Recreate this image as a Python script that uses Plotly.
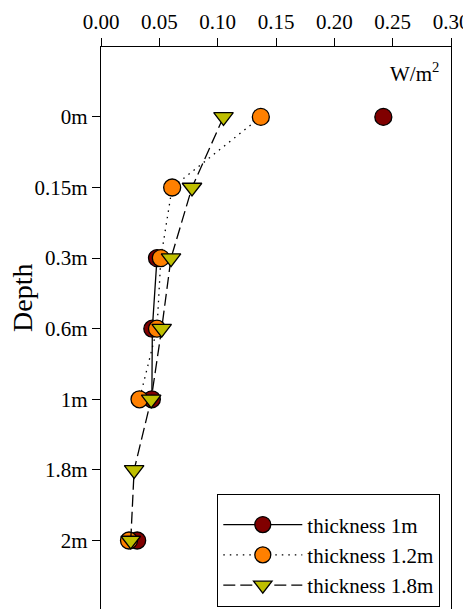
import plotly.graph_objects as go

depths = ["0m", "0.15m", "0.3m", "0.6m", "1m", "1.8m", "2m"]
thick_1m = [0.242, None, 0.048, 0.044, 0.0436, None, 0.031]
thick_1_2m = [0.137, 0.061, 0.0513, 0.048, 0.033, None, 0.024]
thick_1_8m = [0.105, 0.078, 0.060, 0.052, 0.043, 0.0284, 0.0255]
x_ticks = [0.00, 0.05, 0.10, 0.15, 0.20, 0.25, 0.30]

FONT = "Liberation Serif, Times New Roman, serif"

fig = go.Figure()
fig.add_trace(go.Scatter(
    x=thick_1m, y=depths, name="thickness 1m", mode="lines+markers",
    line=dict(color="black", width=1.3),
    marker=dict(symbol="circle", size=17, color="#800000",
                line=dict(color="black", width=1.3)),
))
fig.add_trace(go.Scatter(
    x=thick_1_2m, y=depths, name="thickness 1.2m", mode="lines+markers",
    line=dict(color="black", width=1.3, dash="1.5px,5px"),
    marker=dict(symbol="circle", size=17, color="#ff8000",
                line=dict(color="black", width=1.3)),
))
fig.add_trace(go.Scatter(
    x=thick_1_8m, y=depths, name="thickness 1.8m", mode="lines+markers",
    line=dict(color="black", width=1.3, dash="12px,5px"),
    marker=dict(symbol="triangle-down", size=17, color="#bfbf00",
                line=dict(color="black", width=1.3)),
))

# page has an 8px body margin: figure is 463x601 drawn from (8,8)
fig.update_layout(
    width=463, height=601,
    margin=dict(l=93, r=20, t=39, b=0),
    paper_bgcolor="white", plot_bgcolor="white",
    font=dict(family=FONT, size=21, color="black"),
    showlegend=True,
    legend=dict(
        x=(217 - 101) / 350, y=(609 - 494) / 562, xanchor="left", yanchor="top",
        bordercolor="black", borderwidth=1.3, bgcolor="white",
        font=dict(family=FONT, size=21), itemwidth=79,
        tracegroupgap=0,
        title=dict(text=" ", font=dict(size=7)),
    ),
    xaxis=dict(
        side="top", range=[0, 0.30], tickvals=x_ticks, tickformat=".2f",
        showline=True, linecolor="black", linewidth=1.3, mirror=False,
        ticks="outside", ticklen=8, tickwidth=1.3, tickcolor="black",
        showgrid=False, zeroline=False,
        tickfont=dict(family=FONT, size=21),
    ),
    yaxis=dict(
        type="category", categoryorder="array", categoryarray=depths,
        range=[6.97, -0.99],
        showline=True, linecolor="black", linewidth=1.3, mirror=True,
        ticks="outside", ticklen=8, tickwidth=1.3, tickcolor="black",
        showgrid=False, zeroline=False,
        tickfont=dict(family=FONT, size=21),
    ),
    annotations=[
        dict(text="W/m<sup>2</sup>", xref="paper", yref="paper",
             x=(441 - 101) / 350, y=(609 - 72) / 562, xanchor="right", yanchor="middle",
             showarrow=False, font=dict(family=FONT, size=21)),
        dict(text="Depth", xref="paper", yref="paper",
             x=(22 - 101) / 350, y=(609 - 298) / 562, xanchor="center", yanchor="middle",
             textangle=-90, showarrow=False, font=dict(family=FONT, size=28)),
    ],
)

fig.write_html("out.html")
